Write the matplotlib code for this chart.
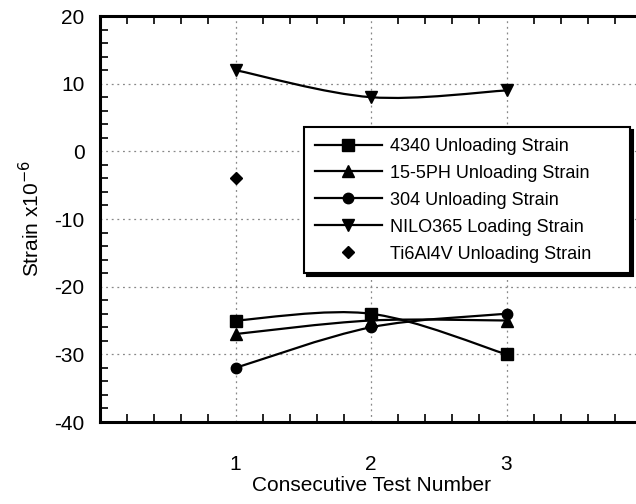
import matplotlib
matplotlib.use('Agg')
import matplotlib.pyplot as plt
from matplotlib.path import Path
from matplotlib.patches import PathPatch
from matplotlib.lines import Line2D

plt.rcParams['font.family'] = ['Liberation Sans', 'DejaVu Sans']
plt.rcParams['axes.unicode_minus'] = False

tests = [1, 2, 3]
s4340 = [-25, -24, -30]
s155ph = [-27, -25, -25]
s304 = [-32, -26, -24]
nilo365 = [12, 8, 9]
ti_x = [1]
ti6al4v = [-4]

labels = ['4340 Unloading Strain', '15-5PH Unloading Strain', '304 Unloading Strain',
          'NILO365 Loading Strain', 'Ti6Al4V Unloading Strain']


def smooth_path(xs, ys):
    # bezier through the points, like the spreadsheet "smoothed line"
    pts = list(zip(xs, ys))
    verts = [pts[0]]
    codes = [Path.MOVETO]
    n = len(pts)
    for i in range(n - 1):
        p0 = pts[i - 1] if i > 0 else pts[i]
        p1 = pts[i]
        p2 = pts[i + 1]
        p3 = pts[i + 2] if i + 2 < n else pts[i + 1]
        c1 = (p1[0] + (p2[0] - p0[0]) / 6, p1[1] + (p2[1] - p0[1]) / 6)
        c2 = (p2[0] - (p3[0] - p1[0]) / 6, p2[1] - (p3[1] - p1[1]) / 6)
        verts += [c1, c2, p2]
        codes += [Path.CURVE4] * 3
    return Path(verts, codes)


fig = plt.figure(figsize=(6.36, 5.04), dpi=100)
ax = fig.add_axes([100 / 636, 1 - 422 / 504, 542 / 636, 406 / 504])

series = [(s4340, 's', 8.5), (s155ph, '^', 8.5), (s304, 'o', 7.5), (nilo365, 'v', 8.5)]
handles = []
for (vals, mk, ms), lab in zip(series, labels):
    ax.add_patch(PathPatch(smooth_path(tests, vals), facecolor='none',
                           edgecolor='black', lw=1.6, zorder=3))
    ax.plot(tests, vals, ls='none', marker=mk, ms=ms, color='black', zorder=4)
    handles.append(Line2D([], [], color='black', lw=1.6, marker=mk, ms=ms, label=lab))
ax.plot(ti_x, ti6al4v, ls='none', marker='D', ms=6, color='black', zorder=4)
handles.append(Line2D([], [], ls='none', marker='D', ms=6, color='black', label=labels[4]))

ax.set_xlim(0, 4)
ax.set_ylim(-40, 20)
ax.set_xticks([1, 2, 3])
ax.set_xticks([i * 0.2 for i in range(21)], minor=True)
ax.set_yticks([-40, -30, -20, -10, 0, 10, 20])
ax.set_yticks(list(range(-40, 21, 2)), minor=True)
ax.grid(True, which='major', ls=(0, (1.5, 3)), color='#888888', lw=0.9)
ax.tick_params(which='both', direction='in', top=True, right=False, width=1.2)
ax.tick_params(which='major', length=0, labelsize=15)
ax.tick_params(axis='x', which='major', pad=24)
ax.tick_params(axis='y', which='major', pad=11)
ax.tick_params(which='minor', length=6)
for sp in ax.spines.values():
    sp.set_linewidth(2.2)

ax.set_xlabel('Consecutive Test Number', fontsize=15, labelpad=1)
ax.set_ylabel('Strain x10$^{-6}$', fontsize=15, labelpad=8)

leg = fig.legend(handles=handles, loc='upper left',
                 bbox_to_anchor=(304 / 636, 1 - 272 / 504, 326 / 636, 145 / 504),
                 mode='expand', fontsize=13, handlelength=3.7, handletextpad=0.45,
                 labelspacing=0.55, borderaxespad=0, borderpad=0.6, fancybox=False,
                 framealpha=1, edgecolor='black',
                 shadow={'facecolor': 'black', 'edgecolor': 'black', 'alpha': 1})
leg.get_frame().set_linewidth(1.5)

fig.savefig('out.png', dpi=100)
